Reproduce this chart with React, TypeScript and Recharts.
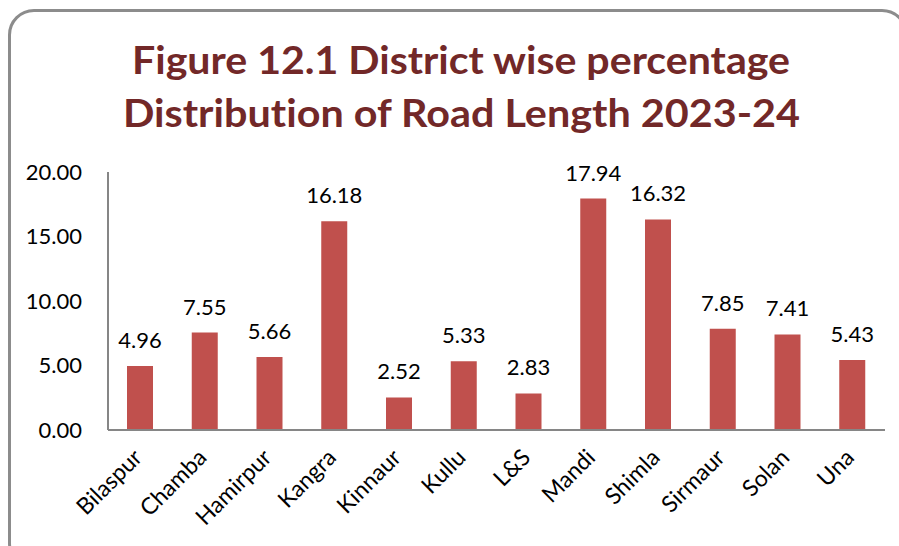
import { Bar, BarChart, LabelList, XAxis, YAxis } from "recharts";

const districts = [
  "Bilaspur",
  "Chamba",
  "Hamirpur",
  "Kangra",
  "Kinnaur",
  "Kullu",
  "L&S",
  "Mandi",
  "Shimla",
  "Sirmaur",
  "Solan",
  "Una",
];
const roadShare = [4.96, 7.55, 5.66, 16.18, 2.52, 5.33, 2.83, 17.94, 16.32, 7.85, 7.41, 5.43];
const yTicks = [0, 5, 10, 15, 20];
const titleLines = ["Figure 12.1 District wise percentage", "Distribution of Road Length 2023-24"];

const chartData = districts.map((name, i) => ({ name, value: roadShare[i] }));

const labelFont = "Lato, 'Open Sans', sans-serif";

function DistrictTick({ x, y, payload }: any) {
  return (
    <text
      x={0}
      y={0}
      transform={`translate(${x + 3},${y + 29}) rotate(-45)`}
      textAnchor="end"
      fontSize={23}
      fontFamily={labelFont}
      fill="#000"
    >
      {payload.value}
    </text>
  );
}

export default function App() {
  return (
    <div
      style={{
        position: "fixed",
        left: 0,
        top: 0,
        width: 899,
        height: 546,
        overflow: "hidden",
        background: "#fff",
      }}
    >
      {/* rounded frame around the whole figure */}
      <div
        style={{
          position: "absolute",
          left: 8,
          top: 9,
          width: 900,
          height: 560,
          border: "3px solid #8c8c8c",
          borderRadius: 26,
          boxSizing: "border-box",
        }}
      />
      <svg
        width={899}
        height={160}
        style={{ position: "absolute", left: 0, top: 0, fontVariantLigatures: "none" }}
      >
        <text
          x={461}
          y={74}
          textAnchor="middle"
          fontSize={39}
          fontWeight="bold"
          fontFamily={labelFont}
          fill="#722828"
          textLength={658}
          lengthAdjust="spacingAndGlyphs"
        >
          {titleLines[0]}
        </text>
        <text
          x={461.5}
          y={127}
          textAnchor="middle"
          fontSize={39}
          fontWeight="bold"
          fontFamily={labelFont}
          fill="#722828"
          textLength={677}
          lengthAdjust="spacingAndGlyphs"
        >
          {titleLines[1]}
        </text>
      </svg>
      <div style={{ position: "absolute", left: 0, top: 0 }}>
        <BarChart
          width={899}
          height={546}
          data={chartData}
          margin={{ top: 172, right: 14, left: 0, bottom: 0 }}
        >
          <XAxis
            dataKey="name"
            height={116}
            interval={0}
            tickLine={false}
            tickSize={0}
            tickMargin={0}
            axisLine={{ stroke: "#868686", strokeWidth: 2 }}
            tick={<DistrictTick />}
          />
          <YAxis
            width={108}
            domain={[0, 20]}
            ticks={yTicks}
            tickFormatter={(v) => Number(v).toFixed(2)}
            tickLine={false}
            tickSize={0}
            tickMargin={26}
            axisLine={{ stroke: "#868686", strokeWidth: 2 }}
            tick={{ fill: "#000", fontSize: 22, fontFamily: labelFont }}
          />
          <Bar
            dataKey="value"
            fill="#C0504D"
            barSize={26}
            isAnimationActive={false}
          >
            <LabelList
              dataKey="value"
              position="top"
              offset={18}
              formatter={(v: any) => Number(v).toFixed(2)}
              fill="#000"
              fontSize={22}
              fontFamily={labelFont}
            />
          </Bar>
        </BarChart>
      </div>
    </div>
  );
}
